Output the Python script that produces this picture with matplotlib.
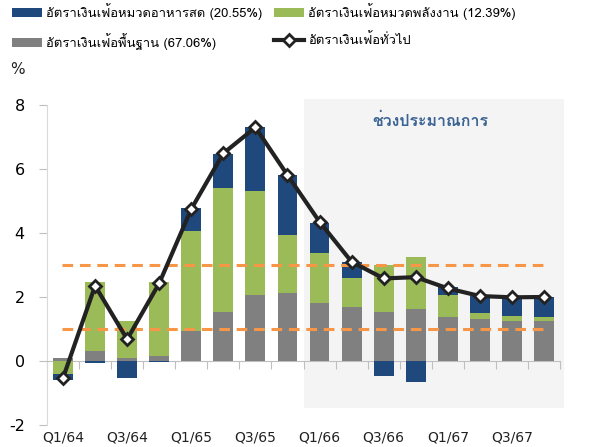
import matplotlib
matplotlib.use("Agg")
import matplotlib.pyplot as plt
import matplotlib.transforms as mtransforms
from matplotlib import font_manager
from matplotlib.ft2font import FT2Font
from matplotlib.patches import Rectangle
import numpy as np


# --- หา font ที่มีอักษรไทย ---
def find_thai_font():
    for f in font_manager.fontManager.ttflist:
        try:
            if 0x0E2D in FT2Font(f.fname).get_charmap():
                return f.name
        except Exception:
            pass
    return "DejaVu Sans"


THAI_FONT = find_thai_font()
plt.rcParams["font.family"] = [THAI_FONT, "DejaVu Sans"]
plt.rcParams["axes.unicode_minus"] = False

# --- DATA ---
quarters = ["Q1/64", "Q2/64", "Q3/64", "Q4/64", "Q1/65", "Q2/65", "Q3/65", "Q4/65",
            "Q1/66", "Q2/66", "Q3/66", "Q4/66", "Q1/67", "Q2/67", "Q3/67", "Q4/67"]
core = [0.08, 0.31, 0.10, 0.16, 0.95, 1.52, 2.06, 2.11,
        1.80, 1.70, 1.52, 1.61, 1.39, 1.30, 1.26, 1.25]
energy = [-0.40, 2.15, 1.16, 2.32, 3.11, 3.90, 3.25, 1.83,
          1.59, 0.88, 1.48, 1.65, 0.67, 0.19, 0.15, 0.14]
food = [-0.18, -0.05, -0.54, -0.03, 0.71, 1.05, 1.99, 1.87,
        0.93, 0.52, -0.46, -0.65, 0.24, 0.55, 0.57, 0.60]
headline = [-0.53, 2.35, 0.68, 2.43, 4.75, 6.49, 7.30, 5.81,
            4.35, 3.10, 2.58, 2.62, 2.27, 2.03, 1.99, 2.00]
target_band = [1, 3]
forecast_start = 7.5

lbl_food = "อัตราเงินเฟ้อหมวดอาหารสด (20.55%)"
lbl_energy = "อัตราเงินเฟ้อหมวดพลังงาน (12.39%)"
lbl_core = "อัตราเงินเฟ้อพื้นฐาน (67.06%)"
lbl_headline = "อัตราเงินเฟ้อทั่วไป"
lbl_forecast = "ช่วงประมาณการ"

C_FOOD = "#1f497d"
C_ENERGY = "#9bbb59"
C_CORE = "#808080"
C_ORANGE = "#f79646"

fig = plt.figure(figsize=(5.89, 4.47), dpi=100)
ax = fig.add_axes([47 / 589, 22 / 447, 513 / 589, 320 / 447])

x = np.arange(len(quarters))
pos_bottom = np.zeros(len(x))
neg_bottom = np.zeros(len(x))
handles = {}
for vals, col, key in [(core, C_CORE, "core"), (energy, C_ENERGY, "energy"), (food, C_FOOD, "food")]:
    vals = np.array(vals)
    bottom = np.where(vals >= 0, pos_bottom, neg_bottom)
    handles[key] = ax.bar(x, vals, width=0.62, bottom=bottom, color=col, zorder=3)
    pos_bottom += np.where(vals >= 0, vals, 0)
    neg_bottom += np.where(vals < 0, vals, 0)

# ช่วงประมาณการ (พื้นหลังเทา)
ax.add_patch(Rectangle((forecast_start, -1.47), 15.63 - forecast_start, 8.19 + 1.47,
                       facecolor="#f4f4f4", edgecolor="none", zorder=0, clip_on=False))
ax.text(11.45, 7.5, lbl_forecast, color="#3b6394", fontsize=11.5, fontweight="bold",
        ha="center", va="center", zorder=1)

# เส้นกรอบเป้าหมาย
for yv in target_band:
    ax.plot([-0.03, 15.05], [yv, yv], color=C_ORANGE, lw=2.2, ls=(0, (3.5, 2.2)), zorder=4)

line, = ax.plot(x, headline, color="#222222", lw=3, marker="D", markersize=6.5,
                markerfacecolor="white", markeredgecolor="#222222", markeredgewidth=2, zorder=5)

ax.set_xlim(-0.5, 15.5)
ax.set_ylim(-2, 8)
ax.set_yticks([-2, 0, 2, 4, 6, 8])
ax.tick_params(axis="y", length=6, color="#bfbfbf", labelsize=11.5, pad=10)
for t in ax.get_yticklabels():
    t.set_family("DejaVu Sans")
ax.set_xticks(np.arange(-0.5, 16, 1))
ax.set_xticklabels([])
ax.tick_params(axis="x", length=6, color="#bfbfbf", direction="out")
for s in ["top", "right"]:
    ax.spines[s].set_visible(False)
ax.spines["left"].set_color("#d9d9d9")
ax.spines["bottom"].set_color("#bfbfbf")
ax.spines["bottom"].set_position(("data", 0))

trans = mtransforms.blended_transform_factory(ax.transData, ax.transAxes)
for i in range(0, len(quarters), 2):
    ax.text(x[i], -0.018, quarters[i], transform=trans, ha="center", va="top",
            fontsize=10, family="DejaVu Sans", color="#222222")

fig.text(10 / 589, 1 - 74 / 447, "%", fontsize=11, family="DejaVu Sans", color="#222222")

fig.legend([handles["food"], handles["core"], handles["energy"], line],
           [lbl_food, lbl_core, lbl_energy, lbl_headline],
           loc="upper left", bbox_to_anchor=(0.0, 1.02), ncol=2, frameon=False,
           fontsize=9.4, handlelength=2.3, handletextpad=0.3, columnspacing=0.9,
           labelspacing=1.05)

fig.savefig("out.png", dpi=100)
